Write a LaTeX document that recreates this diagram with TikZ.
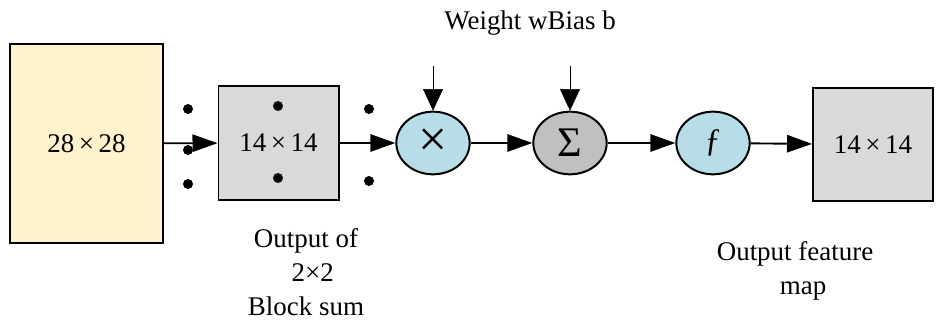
\documentclass[tikz,border=0pt]{standalone}
\usepackage{fontspec}
\setmainfont{Liberation Serif}
\usetikzlibrary{arrows.meta, shapes.geometric}

\definecolor{kuning}{HTML}{FFF2CC}
\definecolor{abu}{HTML}{D9D9D9}
\definecolor{abutua}{HTML}{C0C0C0}
\definecolor{biru}{HTML}{B7DEE8}

\begin{document}
\begin{tikzpicture}[
    x=0.3mm, y=-0.3mm,
    font=\fontsize{23}{29}\selectfont,
    kotak/.style={draw, line width=1.7pt, inner sep=0pt, fill=abu,
                  minimum width=36mm, minimum height=34mm},
    bulat/.style={draw, ellipse, line width=1.7pt, inner sep=0pt, fill=biru,
                  minimum width=22mm, minimum height=18.8mm},
    panah/.style={-{Triangle[length=7.5mm, width=5.2mm]}, line width=1.6pt},
    masuk/.style={-{Triangle[length=6.5mm, width=6mm]}, line width=0.6pt}
  ]
    \useasboundingbox (0,0) rectangle (936,320);
    \node[kotak, fill=kuning, minimum width=45.9mm, minimum height=59.7mm]
      (input) at (86.5,143.5) {28\,×\,28};
    \node[kotak] (pool) at (278.5,143) {14\,×\,14};
    \node[bulat] (kali) at (433,143) {\fontsize{44}{44}\selectfont ×};
    \node[bulat, fill=abutua] (jumlah) at (570,143) {\fontsize{36}{36}\selectfont Σ};
    \node[bulat] (aktif) at (713,143) {\fontsize{28}{28}\selectfont ƒ};
    \node[kotak] (keluar) at (873,144.5) {14\,×\,14};
    % dots around the pooling block
    \foreach \px/\py in {188/109, 188/150, 188/184, 278/106, 278/178, 369/109, 369/181}
      \fill (\px,\py) circle[radius=5];
    \draw[panah] (input) -- (pool);
    \draw[panah] (pool) -- (kali);
    \draw[panah] (kali) -- (jumlah);
    \draw[panah] (jumlah) -- (aktif);
    \draw[panah] (aktif) -- (keluar);
    \coordinate (bobot) at (433,66);
    \coordinate (bias) at (570,66);
    \draw[masuk] (bobot) -- (kali.north);
    \draw[masuk] (bias) -- (jumlah.north);
    \node (label) at (530,23) {Weight wBias b};
    \node[align=center] (ketpool) at (306,272) {Output of\\\hspace{0.5em}2×2\\Block sum};
    \node[align=center] (ketout) at (795,271) {Output feature\\\hspace{0.6em}map};
  \end{tikzpicture}
\end{document}
